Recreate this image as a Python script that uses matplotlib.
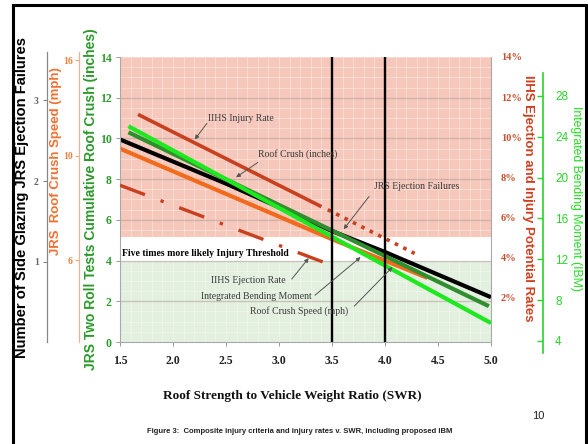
import matplotlib
matplotlib.use('Agg')
import matplotlib.pyplot as plt
from matplotlib.patches import Rectangle
from matplotlib.ticker import NullLocator

# ---------------- data ----------------
swr_ticks = [1.5, 2.0, 2.5, 3.0, 3.5, 4.0, 4.5, 5.0]
crush_ticks = [0, 2, 4, 6, 8, 10, 12, 14]
rate_ticks = [2, 4, 6, 8, 10, 12, 14]
rate_labels = ['2%', '4%', '6%', '8%', '10%', '12%', '14%']
fail_ticks = [1, 2, 3]
speed_ticks = [6, 10, 16]
ibm_ticks = [4, 8, 12, 16, 20, 24, 28]

# curves, expressed in the left (roof crush inches) scale
iihs_injury_x = [1.67, 3.40]
iihs_injury_y = [11.18, 6.65]
iihs_injury_proj_x = [3.46, 4.28]
iihs_injury_proj_y = [6.50, 4.35]
iihs_eject_x = [1.50, 3.43]
iihs_eject_y = [7.70, 3.90]
jrs_fail_x = [1.50, 2.50, 3.00, 3.50, 4.00, 5.00]
jrs_fail_y = [9.95, 7.78, 6.62, 5.45, 4.42, 2.20]
crush_in_x = [1.58, 4.98]
crush_in_y = [10.30, 1.76]
ibm_x = [1.58, 5.00]
ibm_y = [10.60, 0.93]
speed_x = [1.50, 3.50, 4.40]
speed_y = [9.50, 5.05, 3.15]
threshold_lines = [3.5, 4.0]

# ---------------- layout helpers ----------------
W, H = 588, 444
fig = plt.figure(figsize=(W / 100, H / 100), dpi=100)


def rect(l, t, r, b):
    return [l / W, 1 - b / H, (r - l) / W, (b - t) / H]


SERIF = 'Liberation Serif'
SANS = 'Liberation Sans'
RED = '#c8401e'
ORANGE = '#f26b1d'
DKGREEN = '#2f8f2f'
BRGREEN = '#1ee81e'

# ---------------- main axes ----------------
ax = fig.add_axes(rect(120, 57, 491, 342))
ax.set_xlim(1.5, 5.0)
ax.set_ylim(0, 14)

ax.axhspan(5.15, 14, color='#f5c8bb', zorder=0, lw=0)
ax.axhspan(0, 4.0, color='#e3efdf', zorder=0, lw=0)

# fine grid
for i in range(36):
    xv = 1.5 + i * 0.1
    ax.axvline(xv, color='white', alpha=0.4, lw=0.6, zorder=0.5)
for j in range(29):
    yv = j * 0.5
    ax.axhline(yv, color='white', alpha=0.4, lw=0.6, zorder=0.5)
for yv in crush_ticks[1:-1]:
    ax.axhline(yv, color=(0.45, 0.3, 0.3), alpha=0.3, lw=0.9, zorder=0.6)

# curves
ax.plot(speed_x, speed_y, color=ORANGE, lw=3.0, zorder=2, solid_capstyle='butt')
ax.plot(jrs_fail_x, jrs_fail_y, color='black', lw=3.0, zorder=2.5, solid_capstyle='butt')
ax.plot(crush_in_x, crush_in_y, color=DKGREEN, lw=3.0, zorder=3, solid_capstyle='butt')
ax.plot(ibm_x, ibm_y, color=BRGREEN, lw=3.0, zorder=3.5, solid_capstyle='butt')
ax.plot(iihs_injury_x, iihs_injury_y, color=RED, lw=2.6, zorder=3, solid_capstyle='butt')
ax.plot(iihs_injury_proj_x, iihs_injury_proj_y, color=RED, lw=2.6, zorder=3,
        linestyle=(0, (1.0, 1.6)))
ax.plot(iihs_eject_x, iihs_eject_y, color=RED, lw=2.4, zorder=3,
        linestyle=(0, (8, 5, 1, 5)))

for xv in threshold_lines:
    ax.axvline(xv, color='black', lw=1.7, zorder=5)

# annotations
tcol = '#3a3a3a'
ann_kw = dict(fontsize=7, family=SERIF, color=tcol, va='center', ha='left', zorder=6)
arrow_kw = dict(arrowstyle='-|>', color='#555555', lw=0.7, mutation_scale=6,
                shrinkA=0, shrinkB=0)

ax.text(2.33, 10.98, 'IIHS Injury Rate', **ann_kw)
ax.annotate('', xy=(2.205, 9.95), xytext=(2.32, 10.74), arrowprops=arrow_kw, zorder=6)
ax.text(2.805, 9.22, 'Roof Crush (inches)', **ann_kw)
ax.annotate('', xy=(2.595, 8.09), xytext=(2.80, 8.82), arrowprops=arrow_kw, zorder=6)
ax.text(3.90, 7.65, 'JRS Ejection Failures', **ann_kw)
ax.annotate('', xy=(3.61, 5.54), xytext=(3.85, 7.15), arrowprops=arrow_kw, zorder=6)
ax.text(1.52, 4.37, 'Five times more likely Injury Threshold', fontsize=7, family=SERIF,
        color='black', fontweight='bold', va='center', ha='left', zorder=6)
ax.text(2.357, 3.04, 'IIHS Ejection Rate', **ann_kw)
ax.annotate('', xy=(3.28, 4.12), xytext=(3.12, 3.09), arrowprops=arrow_kw, zorder=6)
ax.text(2.26, 2.25, 'Integrated Bending Moment', **ann_kw)
ax.annotate('', xy=(3.77, 4.17), xytext=(3.34, 2.30), arrowprops=arrow_kw, zorder=6)
ax.text(2.73, 1.52, 'Roof Crush Speed (mph)', **ann_kw)
ax.annotate('', xy=(4.07, 3.68), xytext=(3.71, 1.76), arrowprops=arrow_kw, zorder=6)

# ticks / spines of main axes
ax.set_xticks(swr_ticks, [f'{v:.1f}' for v in swr_ticks], fontsize=8.5,
              fontweight='bold', family=SERIF, color='#222222')
ax.set_yticks(crush_ticks, [str(v) for v in crush_ticks], fontsize=8.5,
              fontweight='bold', family=SERIF, color='#2e9a2e')
ax.tick_params(axis='both', length=3, width=0.7, color='#999999', pad=3)
ax.tick_params(axis='x', pad=6)
for s in ax.spines.values():
    s.set_color('#a8a8a8')
    s.set_linewidth(0.8)
ax.spines['top'].set_visible(False)

# right-hand rates axis (twin)
axr = ax.twinx()
axr.set_ylim(-0.2, 14)
axr.set_yticks(rate_ticks, rate_labels, fontsize=7.5, fontweight='bold',
               family=SERIF, color='#c8502e')
axr.tick_params(axis='y', length=0, pad=7)
for s in axr.spines.values():
    s.set_visible(False)

# ---------------- extra left axes ----------------
ax_fail = fig.add_axes(rect(47, 52, 48, 342))
ax_fail.set_ylim(0, 290 / 80.5)
ax_fail.set_xticks([])
ax_fail.set_yticks(fail_ticks, [str(v) for v in fail_ticks], fontsize=7,
                   fontweight='bold', family=SERIF, color='#666666')
ax_fail.tick_params(axis='y', length=3, width=0.7, color='#777777', pad=3)
ax_fail.patch.set_visible(False)
for k, s in ax_fail.spines.items():
    s.set_visible(k == 'left')
ax_fail.spines['left'].set_color('#888888')
ax_fail.spines['left'].set_linewidth(0.9)

ax_speed = fig.add_axes(rect(79, 52, 80, 342))
ax_speed.set_yscale('log')
ax_speed.set_ylim(4.02, 16.64)
ax_speed.set_xticks([])
ax_speed.set_yticks(speed_ticks, [str(v) for v in speed_ticks], fontsize=7,
                    fontweight='bold', family=SERIF, color='#f08040')
ax_speed.yaxis.set_minor_locator(NullLocator())
ax_speed.tick_params(axis='y', length=3, width=0.7, color='#f5a070', pad=1.5)
ax_speed.patch.set_visible(False)
for k, s in ax_speed.spines.items():
    s.set_visible(k == 'left')
ax_speed.spines['left'].set_color('#f5b090')
ax_speed.spines['left'].set_linewidth(0.9)

# ---------------- IBM right axis ----------------
ax_ibm = fig.add_axes(rect(543, 73, 544, 353))
ax_ibm.set_ylim(2.82, 30.25)
ax_ibm.set_xticks([])
ax_ibm.set_yticks(ibm_ticks, [str(v) for v in ibm_ticks], fontsize=8.5,
                  family=SANS, color='#2ad42a')
ax_ibm.tick_params(axis='y', left=True, right=False, labelleft=False,
                   labelright=True, length=4, width=1.0, color='#2ad42a', pad=4)
ax_ibm.patch.set_visible(False)
for k, s in ax_ibm.spines.items():
    s.set_visible(k == 'left')
ax_ibm.spines['left'].set_color('#2ad42a')
ax_ibm.spines['left'].set_linewidth(1.2)

# ---------------- axis titles ----------------
fig.text(22.5 / W, 1 - 197 / H, 'Number of Side Glazing JRS Ejection Failures',
         rotation=90, ha='center', va='center', fontsize=10.6, fontweight='bold',
         family=SANS, color='black')
fig.text(56 / W, 1 - 161 / H, 'JRS  Roof Crush Speed (mph)', rotation=90,
         ha='center', va='center', fontsize=9.5, fontweight='bold', family=SANS,
         color='#f07030')
fig.text(91 / W, 1 - 199 / H, 'JRS Two Roll Tests Cumulative Roof Crush (inches)',
         rotation=90, ha='center', va='center', fontsize=10, fontweight='bold',
         family=SANS, color='#2a9a2a')
fig.text(528 / W, 1 - 198 / H, 'IIHS Ejection and Injury Potential Rates',
         rotation=270, ha='center', va='center', fontsize=9.5, fontweight='bold',
         family=SANS, color='#d04020')
fig.text(576 / W, 1 - 198 / H, 'Integrated Bending Moment (IBM)', rotation=270,
         ha='center', va='center', fontsize=8.8, family=SANS, color='#22dd22')

fig.text(292 / W, 1 - 396 / H, 'Roof Strength to Vehicle Weight Ratio (SWR)',
         ha='center', va='center', fontsize=9.5, fontweight='bold', family=SERIF,
         color='#111111')
fig.text(538 / W, 1 - 416 / H, '10', ha='center', va='center', fontsize=8,
         family=SANS, color='#222222')
fig.text(300 / W, 1 - 431 / H,
         'Figure 3:  Composite injury criteria and injury rates v. SWR, including proposed IBM',
         ha='center', va='center', fontsize=5.5, fontweight='bold', family=SANS,
         color='#222222')

# slide frame
fig.add_artist(Rectangle((13.3 / W, -0.1), (586 - 13.3) / W, 1.1 - 4.7 / H,
                         transform=fig.transFigure, fill=False, lw=2.2,
                         ec='black'))

fig.savefig('out.png', dpi=100)
